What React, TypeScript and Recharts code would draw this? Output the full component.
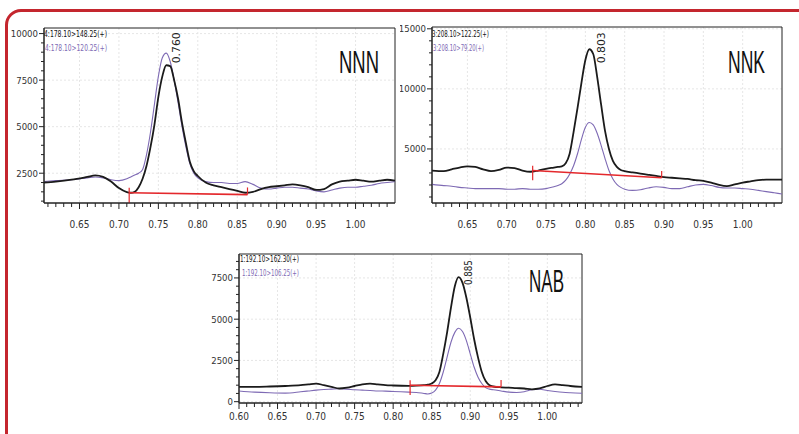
import React from "react";
import {
  LineChart,
  Line,
  XAxis,
  YAxis,
  CartesianGrid,
  ReferenceLine,
  ReferenceArea,
  ReferenceDot,
} from "recharts";

// retention time (min) and response
const nnnTime = [0.605, 0.62, 0.64, 0.66, 0.67, 0.68, 0.69, 0.70, 0.71, 0.715, 0.72, 0.725, 0.73, 0.735, 0.74, 0.745, 0.75, 0.755, 0.76, 0.765, 0.77, 0.775, 0.78, 0.785, 0.79, 0.795, 0.80, 0.81, 0.82, 0.83, 0.84, 0.85, 0.86, 0.87, 0.88, 0.89, 0.90, 0.91, 0.92, 0.93, 0.94, 0.95, 0.96, 0.97, 0.98, 0.99, 1.00, 1.01, 1.02, 1.03, 1.04, 1.05];
const nnnQuant = [2000, 2050, 2150, 2300, 2380, 2300, 2050, 1700, 1480, 1450, 1500, 1750, 2200, 2900, 3900, 5100, 6600, 7700, 8300, 8250, 7500, 6500, 5200, 4100, 3100, 2600, 2350, 2000, 1850, 1750, 1650, 1550, 1450, 1500, 1650, 1750, 1800, 1850, 1900, 1850, 1750, 1600, 1650, 1900, 2050, 2100, 2150, 2100, 2050, 2100, 2150, 2100];
const nnnQual = [2050, 2100, 2150, 2250, 2300, 2250, 2150, 2100, 2200, 2300, 2400, 2500, 2700, 3500, 4700, 6200, 7700, 8700, 8950, 8500, 7500, 6300, 5000, 3900, 3000, 2500, 2250, 2050, 2000, 2000, 1950, 1950, 2050, 1900, 1700, 1650, 1700, 1750, 1750, 1700, 1650, 1550, 1500, 1600, 1700, 1750, 1750, 1800, 1850, 1950, 2000, 2050];

const nnkTime = [0.605, 0.62, 0.63, 0.64, 0.65, 0.66, 0.67, 0.68, 0.69, 0.70, 0.71, 0.72, 0.73, 0.74, 0.75, 0.76, 0.765, 0.77, 0.775, 0.78, 0.785, 0.79, 0.795, 0.80, 0.805, 0.81, 0.815, 0.82, 0.825, 0.83, 0.835, 0.84, 0.845, 0.85, 0.86, 0.87, 0.88, 0.89, 0.90, 0.91, 0.92, 0.93, 0.94, 0.95, 0.96, 0.97, 0.98, 0.99, 1.00, 1.01, 1.02, 1.03, 1.04, 1.05];
const nnkQuant = [3200, 3150, 3300, 3450, 3550, 3500, 3300, 3150, 3250, 3450, 3400, 3200, 3100, 3200, 3350, 3450, 3500, 3550, 3800, 4600, 6400, 8400, 10500, 12400, 13300, 12900, 11000, 8700, 6500, 5000, 4000, 3500, 3250, 3150, 3050, 2950, 2850, 2750, 2650, 2600, 2550, 2500, 2400, 2350, 2200, 2000, 1900, 2050, 2200, 2300, 2400, 2450, 2450, 2450];
const nnkQual = [2050, 1950, 1900, 1800, 1750, 1700, 1700, 1700, 1700, 1650, 1650, 1700, 1650, 1650, 1700, 1850, 1950, 2100, 2400, 2900, 3600, 4600, 5800, 6800, 7200, 7000, 6300, 5300, 4200, 3200, 2500, 2050, 1800, 1650, 1550, 1600, 1750, 1850, 1800, 1700, 1700, 1850, 2000, 2050, 1950, 1800, 1750, 1750, 1700, 1650, 1550, 1450, 1350, 1250];

const nabTime = [0.60, 0.62, 0.64, 0.66, 0.68, 0.69, 0.70, 0.71, 0.72, 0.73, 0.74, 0.75, 0.76, 0.77, 0.78, 0.79, 0.80, 0.82, 0.83, 0.84, 0.845, 0.85, 0.855, 0.86, 0.865, 0.87, 0.875, 0.88, 0.885, 0.89, 0.895, 0.90, 0.905, 0.91, 0.915, 0.92, 0.925, 0.93, 0.94, 0.95, 0.96, 0.97, 0.98, 0.99, 1.00, 1.01, 1.02, 1.03, 1.045];
const nabQuant = [900, 900, 920, 950, 1000, 1050, 1100, 1000, 900, 800, 850, 950, 1050, 1100, 1050, 1000, 980, 960, 970, 1000, 1030, 1100, 1300, 1800, 2900, 4200, 5700, 7000, 7550, 7200, 6300, 5100, 3800, 2700, 1800, 1250, 1000, 920, 870, 850, 820, 800, 750, 800, 950, 1050, 1000, 950, 900];
const nabQual = [650, 580, 540, 520, 600, 650, 700, 740, 760, 780, 760, 720, 700, 680, 650, 640, 620, 580, 560, 500, 470, 520, 700, 1100, 1800, 2700, 3600, 4200, 4450, 4250, 3700, 2900, 2100, 1500, 1100, 850, 760, 720, 650, 580, 560, 600, 720, 750, 680, 620, 570, 540, 510];

// integration baselines: [start, end] as [time, response]
const nnnBase = [[0.713, 1450], [0.863, 1350]];
const nnkBase = [[0.733, 3200], [0.897, 2600]];
const nabBase = [[0.822, 1000], [0.94, 900]];

const nnnTrans = ["4:178.10>148.25(+)", "4:178.10>120.25(+)"];
const nnkTrans = ["3:208.10>122.25(+)", "3:208.10>79.20(+)"];
const nabTrans = ["1:192.10>162.30(+)", "1:192.10>106.25(+)"];

const NARROW = "'Liberation Sans Narrow', 'DejaVu Sans Condensed', 'Arial Narrow', sans-serif";
const BLACK = "#1b1b1b";
const PURPLE = "#7e6ab4";
const RED = "#e4282c";

const steps = (a: number, b: number, s: number) => {
  const out: number[] = [];
  for (let v = a; v <= b + 1e-9; v += s) out.push(Math.round(v * 1000) / 1000);
  return out;
};

function XTick({ x, y, payload, gap }: any) {
  const v = payload.value;
  const major = Math.round(v * 100) % 5 === 0;
  return (
    <g>
      <line x1={x} x2={x} y1={y} y2={y + (major ? 6 : 4)} stroke="#222" />
      {major && (
        <text x={x} y={y + gap} textAnchor="middle" fontSize={10} fontFamily={NARROW} fill="#333">
          {v.toFixed(2)}
        </text>
      )}
    </g>
  );
}

function YTick({ x, y, payload, every }: any) {
  const v = payload.value;
  const major = v % every === 0;
  return (
    <g>
      <line x1={x - (major ? 5 : 3)} x2={x} y1={y} y2={y} stroke="#222" />
      {major && (
        <text x={x - 6} y={y + 3.5} textAnchor="end" fontSize={9.5} fontFamily={NARROW} fill="#333">
          {v}
        </text>
      )}
    </g>
  );
}

function PeakLabel({ viewBox, text, offX, offY, len }: any) {
  const x = viewBox.x + viewBox.width / 2 + offX;
  const y = viewBox.y + viewBox.height / 2 + offY;
  return (
    <text
      x={x}
      y={y}
      transform={`rotate(-90 ${x} ${y})`}
      fontSize={10}
      fontFamily="'DejaVu Sans', sans-serif"
      textLength={len}
      lengthAdjust="spacingAndGlyphs"
      fill="#222"
    >
      {text}
    </text>
  );
}

function Panel(p: any) {
  const data = p.time.map((t: number, i: number) => ({ t, quant: p.quant[i], qual: p.qual[i] }));
  const [b0, b1] = p.base;
  return (
    <div style={{ position: "absolute", left: p.left, top: p.top }}>
      <LineChart width={p.width} height={p.height} data={data} margin={p.margin}>
        <CartesianGrid
          stroke="#e6e6e6"
          strokeDasharray="2 2"
          verticalValues={steps(0.65, 1.0, 0.05)}
          horizontalValues={p.yTicks.filter((v: number) => v % p.every === 0)}
        />
        <XAxis
          dataKey="t"
          type="number"
          domain={p.xDomain}
          allowDataOverflow
          ticks={p.xTicks}
          interval={0}
          tickSize={0}
          tickMargin={0}
          tickLine={false}
          stroke="#222"
          height={22}
          tick={<XTick gap={p.gap} />}
        />
        <YAxis
          type="number"
          domain={p.yDomain}
          allowDataOverflow
          ticks={p.yTicks}
          interval={0}
          tickSize={0}
          tickMargin={0}
          tickLine={false}
          stroke="#222"
          width={p.yWidth}
          tick={<YTick every={p.every} />}
        />
        <ReferenceArea
          x1={p.xDomain[0]}
          x2={p.xDomain[1]}
          y1={p.yDomain[0]}
          y2={p.yDomain[1]}
          fill="none"
          stroke="#222"
          strokeWidth={1}
          ifOverflow="visible"
        />
        <Line dataKey="qual" type="monotone" stroke={PURPLE} strokeWidth={1.1} dot={false} isAnimationActive={false} />
        <Line dataKey="quant" type="monotone" stroke={BLACK} strokeWidth={1.8} dot={false} isAnimationActive={false} />
        <ReferenceLine
          segment={[{ x: b0[0], y: b0[1] }, { x: b1[0], y: b1[1] }]}
          stroke={RED}
          strokeWidth={1.6}
        />
        <ReferenceLine
          segment={[{ x: b0[0], y: b0[1] - p.tick }, { x: b0[0], y: b0[1] + p.tick * 0.5 }]}
          stroke={RED}
          strokeWidth={1.2}
        />
        <ReferenceLine
          segment={[{ x: b1[0], y: b1[1] }, { x: b1[0], y: b1[1] + p.tick * 0.7 }]}
          stroke={RED}
          strokeWidth={1.2}
        />
        <ReferenceDot
          x={p.peak[0]}
          y={p.peak[1]}
          r={1}
          fill="none"
          stroke="none"
          label={<PeakLabel text={p.peak[0].toFixed(3)} offX={p.labelOff[0]} offY={p.labelOff[1]} len={p.labelOff[2]} />}
        />
      </LineChart>
    </div>
  );
}

function Title({ x, y, w, size, children }: any) {
  return (
    <text x={x} y={y} fontSize={size} fontFamily="'Liberation Sans', Arial, sans-serif" fill="#111" textLength={w} lengthAdjust="spacingAndGlyphs">
      {children}
    </text>
  );
}

function Trans({ x, y, w, color, children }: any) {
  return (
    <text x={x} y={y} fontSize={8.5} fontFamily={NARROW} fill={color} textLength={w} lengthAdjust="spacingAndGlyphs">
      {children}
    </text>
  );
}

export default function App() {
  return (
    <div style={{ position: "absolute", left: 0, top: 0, width: 799, height: 434, overflow: "hidden", background: "#fff" }}>
      <div
        style={{
          position: "absolute",
          left: 5,
          top: 9,
          width: 840,
          height: 470,
          border: "3px solid #c4262e",
          borderRadius: 16,
        }}
      />
      <Panel
        left={0}
        top={0}
        width={400}
        height={230}
        margin={{ top: 28, right: 5, left: 8, bottom: 5 }}
        yWidth={36}
        time={nnnTime}
        quant={nnnQuant}
        qual={nnnQual}
        base={nnnBase}
        tick={550}
        xDomain={[0.605, 1.05]}
        yDomain={[900, 10300]}
        xTicks={steps(0.61, 1.04, 0.01)}
        yTicks={steps(1000, 10000, 500)}
        every={2500}
        gap={25}
        peak={[0.76, 8350]}
        labelOff={[14, -1, 31]}
      />
      <Panel
        left={400}
        top={0}
        width={390}
        height={230}
        margin={{ top: 27, right: 8, left: 4, bottom: 5 }}
        yWidth={28}
        time={nnkTime}
        quant={nnkQuant}
        qual={nnkQual}
        base={nnkBase}
        tick={800}
        xDomain={[0.605, 1.05]}
        yDomain={[500, 15150]}
        xTicks={steps(0.61, 1.04, 0.01)}
        yTicks={steps(1000, 15000, 1000)}
        every={5000}
        gap={25}
        peak={[0.803, 13300]}
        labelOff={[17, 14, 31]}
      />
      <Panel
        left={200}
        top={240}
        width={390}
        height={190}
        margin={{ top: 14, right: 8, left: 7, bottom: 5 }}
        yWidth={32}
        time={nabTime}
        quant={nabQuant}
        qual={nabQual}
        base={nabBase}
        tick={600}
        xDomain={[0.6, 1.045]}
        yDomain={[-80, 8950]}
        xTicks={steps(0.6, 1.04, 0.01)}
        yTicks={steps(0, 8500, 500)}
        every={2500}
        gap={17}
        peak={[0.885, 7550]}
        labelOff={[13, 8, 25]}
      />
      <svg width={799} height={434} style={{ position: "absolute", left: 0, top: 0, pointerEvents: "none" }}>
        <Title x={339} y={73} w={40} size={32}>NNN</Title>
        <Title x={728} y={73} w={37} size={31}>NNK</Title>
        <Title x={529} y={292} w={35} size={31}>NAB</Title>
        <Trans x={44} y={37} w={63} color="#111">{nnnTrans[0]}</Trans>
        <Trans x={45} y={51} w={62} color={PURPLE}>{nnnTrans[1]}</Trans>
        <Trans x={432} y={37} w={57} color="#111">{nnkTrans[0]}</Trans>
        <Trans x={433} y={51} w={51} color={PURPLE}>{nnkTrans[1]}</Trans>
        <Trans x={240} y={262} w={59} color="#111">{nabTrans[0]}</Trans>
        <Trans x={242} y={276} w={57} color={PURPLE}>{nabTrans[1]}</Trans>
      </svg>
    </div>
  );
}
